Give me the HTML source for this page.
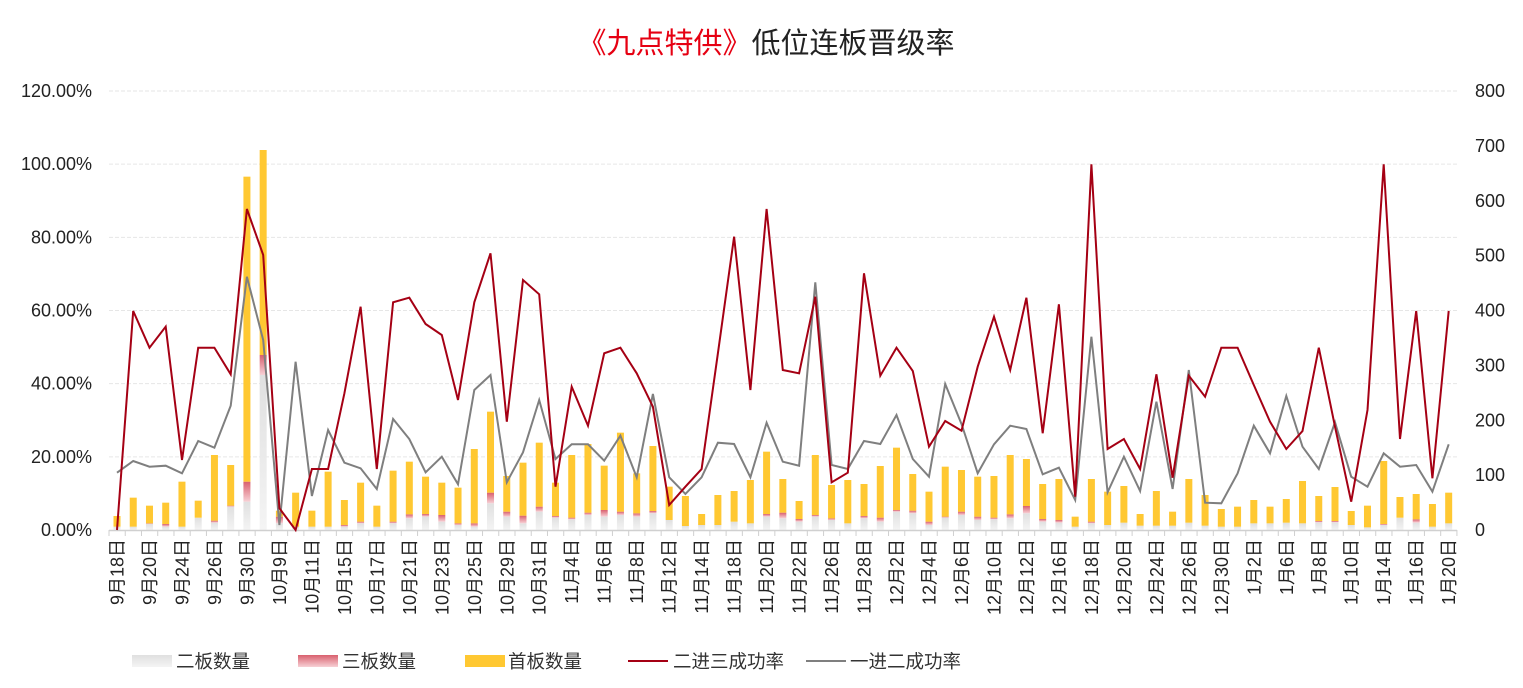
<!DOCTYPE html>
<html><head><meta charset="utf-8">
<style>
html,body{margin:0;padding:0;background:#fff;}
svg{display:block;font-family:"Liberation Sans","Noto Sans CJK SC",sans-serif;}
</style></head>
<body>
<svg id="c" width="1523" height="688" xmlns="http://www.w3.org/2000/svg">
<defs>
<linearGradient id="gg" x1="0" y1="0" x2="0" y2="1"><stop offset="0" stop-color="#e0e0e0"/><stop offset="1" stop-color="#f4f4f4"/></linearGradient>
<linearGradient id="rg" x1="0" y1="0" x2="0" y2="1"><stop offset="0" stop-color="#d9606e"/><stop offset="1" stop-color="#f7d0d5"/></linearGradient>
</defs>
<text x="766" y="53" text-anchor="middle" font-size="29"><tspan fill="#e60012">《九点特供》</tspan><tspan fill="#222">低位连板晋级率</tspan></text>
<g id="g"></g>
</svg>
<script>
var NS="http://www.w3.org/2000/svg",g=document.getElementById("g");
function el(t,a,txt){var e=document.createElementNS(NS,t);for(var k in a)e.setAttribute(k,a[k]);if(txt!=null)e.textContent=txt;g.appendChild(e);return e;}
function Y(v){return 140+v/3;}
var X=function(i){return 117+16.24*i;};
for(var k=0;k<=6;k++){var y=530-73.17*k;
 if(k>0)el("line",{x1:109,x2:1457,y1:y,y2:y,stroke:"#e6e6e6","stroke-dasharray":"4,2","stroke-width":1});
 el("text",{x:92,y:y+6,"text-anchor":"end","font-size":18,fill:"#222"},(20*k).toFixed(2)+"%");}
for(var k=0;k<=8;k++){var y=530-54.875*k;el("text",{x:1475,y:y+6,"font-size":18,fill:"#222"},String(100*k));}
var top_=[1128,1073,1097,1088,1025,1082,945,975,110,30,1112,1058,1112,995,1080,1028,1097,992,965,1010,1028,1043,927,815,1008,968,908,1028,945,912,977,878,1000,918,1040,1068,1122,1065,1053,1020,935,1017,1083,945,1035,1020,1032,978,923,1002,1055,980,990,1010,1008,945,957,1032,1017,1130,1017,1055,1038,1122,1053,1115,1017,1065,1107,1100,1080,1100,1077,1023,1068,1041,1113,1097,963,1071,1062,1092,1058];
var rt=[1160,1160,1150,1152,1160,1133,1142,1097,1025,645,1130,1160,1160,1160,1155,1145,1160,1145,1123,1122,1125,1150,1150,1058,1115,1127,1100,1128,1133,1118,1110,1115,1120,1113,1140,1158,1155,1155,1145,1150,1122,1118,1137,1125,1135,1150,1128,1133,1110,1112,1145,1130,1115,1130,1133,1123,1098,1137,1140,1160,1145,1155,1148,1157,1157,1157,1148,1157,1160,1160,1150,1150,1148,1150,1143,1143,1155,1162,1152,1133,1138,1160,1150];
var gt=[1160,1160,1152,1160,1160,1133,1148,1100,1085,705,1150,1160,1160,1160,1160,1150,1160,1150,1135,1130,1145,1155,1160,1090,1130,1150,1115,1133,1138,1125,1130,1125,1130,1120,1140,1158,1155,1155,1145,1150,1130,1135,1145,1130,1140,1150,1135,1145,1115,1120,1155,1133,1125,1140,1138,1135,1120,1145,1148,1160,1150,1155,1148,1157,1157,1157,1148,1157,1160,1160,1150,1150,1148,1150,1147,1147,1155,1162,1155,1133,1148,1160,1150];
var red=[1170,513,623,560,960,623,623,703,207,345,1105,1170,987,987,760,500,987,487,473,552,585,780,487,340,845,420,463,1040,740,857,640,623,700,800,1095,1040,987,640,290,750,207,690,700,470,1027,998,400,707,623,693,920,843,872,680,530,690,473,880,493,1070,73,927,897,987,703,1013,707,770,623,623,735,845,927,873,623,860,1085,810,73,897,513,1015,513];
var gry=[998,963,980,977,1000,903,923,797,410,600,1155,665,1068,870,968,985,1047,837,897,997,950,1033,750,705,1027,937,780,957,913,913,962,887,1012,762,1012,1062,1012,908,912,1012,848,965,977,427,975,987,903,912,825,957,1010,732,852,1000,913,857,867,1003,983,1080,590,1057,950,1053,785,1047,690,1088,1090,1000,857,940,768,920,987,847,1010,1040,940,980,975,1055,913];
for(var i=0;i<83;i++){var x=X(i)-3.5,w=7;
 var yt=Y(top_[i]),yr=Y(rt[i]),yg=Y(gt[i]);
 el("rect",{x:x,y:yg,width:w,height:530-yg,fill:"url(#gg)"});
 if(yg-yr>0.3)el("rect",{x:x,y:yr,width:w,height:yg-yr,fill:"url(#rg)"});
 if(yr-yt>0)el("rect",{x:x,y:yt,width:w,height:yr-yt,fill:"#ffc832"});}
el("line",{x1:109,x2:1457,y1:530.5,y2:530.5,stroke:"#d0d0d0","stroke-width":1.5});
for(var i=0;i<=83;i++){var x=109+16.24*i;el("line",{x1:x,x2:x,y1:530,y2:536,stroke:"#d0d0d0","stroke-width":1});}
function line(a,c){var p=a.map(function(v,i){return X(i).toFixed(1)+","+Y(v).toFixed(1);}).join(" ");el("polyline",{points:p,fill:"none",stroke:c,"stroke-width":2,"stroke-linejoin":"miter"});}
line(gry,"#7f7f7f");line(red,"#a50014");
var labs=["9月18日","9月20日","9月24日","9月26日","9月30日","10月9日","10月11日","10月15日","10月17日","10月21日","10月23日","10月25日","10月29日","10月31日","11月4日","11月6日","11月8日","11月12日","11月14日","11月18日","11月20日","11月22日","11月26日","11月28日","12月2日","12月4日","12月6日","12月10日","12月12日","12月16日","12月18日","12月20日","12月24日","12月26日","12月30日","1月2日","1月6日","1月8日","1月10日","1月14日","1月16日","1月20日"];
labs.forEach(function(t,j){var x=X(2*j)+6.5;el("text",{x:0,y:0,"text-anchor":"end","font-size":18,fill:"#222",transform:"translate("+x+",539) rotate(-90)"},t);});
el("rect",{x:132,y:655,width:40,height:12,fill:"url(#gg)"});el("text",{x:176,y:668,"font-size":18.5,fill:"#333"},"二板数量");
el("rect",{x:298,y:655,width:40,height:12,fill:"url(#rg)"});el("text",{x:342,y:668,"font-size":18.5,fill:"#333"},"三板数量");
el("rect",{x:465,y:655,width:40,height:12,fill:"#ffc832"});el("text",{x:508,y:668,"font-size":18.5,fill:"#333"},"首板数量");
el("line",{x1:628,x2:668,y1:661,y2:661,stroke:"#a50014","stroke-width":2});el("text",{x:673,y:668,"font-size":18.5,fill:"#333"},"二进三成功率");
el("line",{x1:806,x2:846,y1:661,y2:661,stroke:"#7f7f7f","stroke-width":2});el("text",{x:850,y:668,"font-size":18.5,fill:"#333"},"一进二成功率");
</script>
</body></html>
